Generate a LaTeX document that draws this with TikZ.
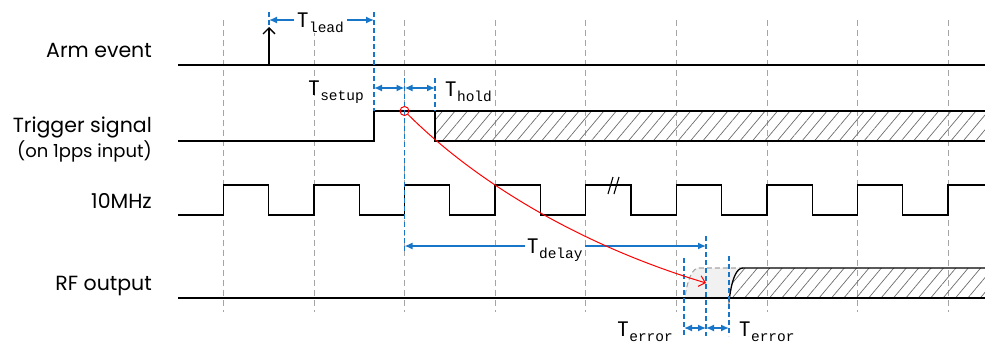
\documentclass[tikz,border=0pt]{standalone}
\usepackage{fontspec}
\setmainfont{Poppins}
\newfontfamily\submono{Liberation Mono}
\usetikzlibrary{arrows.meta,patterns.meta}
\definecolor{dimblue}{RGB}{24,118,200}
\definecolor{gridgray}{RGB}{165,165,165}
\definecolor{ghostfill}{RGB}{241,241,241}
\newcommand{\Tsub}[1]{T\kern0.5pt\raisebox{-4.5pt}{\fontsize{14.5}{15}\submono #1}}
\begin{document}
\begin{tikzpicture}[x=1pt,y=-1pt,
  sig/.style={line width=1.3pt, black},
  gridline/.style={gridgray, line width=0.8pt, dash pattern=on 6pt off 4pt},
  guide/.style={dimblue, line width=1.1pt, dash pattern=on 5pt off 3pt},
  dimarrow/.style={dimblue, line width=1.4pt, {Latex[length=8pt,width=7pt]}-{Latex[length=8pt,width=7pt]}},
  siglabel/.style={anchor=base east, font=\fontsize{20.5}{22}\selectfont, inner sep=0pt},
  dimlabel/.style={font=\fontsize{21}{22}\selectfont, inner sep=0pt},
  hatch/.style={pattern={Lines[angle=50,distance=9.5pt,line width=0.7pt]}, pattern color=gray!85!black},
  redline/.style={red, line width=1pt}]
\useasboundingbox (0,0) rectangle (985,343);
\begin{scope}
\clip (0,0) rectangle (985,343);
% grid
\foreach \k in {0,...,8}
  \draw[gridline] ({223.3+90.6*\k},20) -- ({223.3+90.6*\k},312);

% signal labels
\node[siglabel] (armlbl) at (152,57) {Arm event};
\node[siglabel] (triglbl) at (152,132) {Trigger signal};
\node[siglabel, font=\fontsize{18}{20}\selectfont] (trigsub) at (152,157) {(on 1pps input)};
\node[siglabel] (clklbl) at (152,208) {10MHz};
\node[siglabel] (rflbl) at (152,290) {RF output};

% hatched areas
\fill[hatch] (435,111) rectangle (990,141);
\fill[hatch] (729,298) to[out=-90,in=180] (743,268) -- (990,268) -- (990,298) -- cycle;
% ghost edge
\fill[ghostfill] (684,298) to[out=-90,in=180] (699,268) -- (743,268) to[out=180,in=-90] (729,298) -- cycle;
\draw[gridgray, line width=1.1pt, dash pattern=on 5pt off 3pt] (684,298) to[out=-90,in=180] (699,268) -- (743,268);

% arm event
\coordinate (arm0) at (178,65);
\coordinate (arm1) at (990,65);
\coordinate (armbase) at (269,65);
\coordinate (armtip) at (269,27);
\draw[sig] (arm0) -- (arm1);
\draw[sig, -{Straight Barb[length=6pt,width=12pt]}] (armbase) -- (armtip);

% trigger signal
\draw[sig] (178,141) -- (374,141) -- (374,111) -- (435,111) -- (435,141) -- (990,141);
\draw[sig] (435,111) -- (990,111);

% 10 MHz clock
\draw[sig] (178,215) \foreach \k in {0,...,8} {
  -- ({223.3+90.6*\k},215) -- ({223.3+90.6*\k},185)
  -- ({268.6+90.6*\k},185) -- ({268.6+90.6*\k},215) };
\draw[sig, line width=1.1pt] (608,194) -- (613,177);
\draw[sig, line width=1.1pt] (614,194) -- (619,177);

% RF output
\draw[sig] (178,298) -- (990,298);
\draw[sig] (729,298) to[out=-90,in=180] (743,268) -- (990,268);

% blue guides
\draw[guide] (269,12) -- (269,27);
\draw[guide] (374,12) -- (374,111);
\draw[guide] (404.5,78) -- (404.5,252);
\draw[guide] (435,78) -- (435,111);
\draw[guide] (706,236) -- (706,336);
\draw[guide] (684,258) -- (684,336);
\draw[guide] (729,256) -- (729,336);

% dimension arrows
\coordinate (lA) at (269,20);  \coordinate (lB) at (374,20);
\coordinate (sA) at (374,88);  \coordinate (sB) at (404.5,88); \coordinate (sC) at (435,88);
\coordinate (dA) at (404.5,246); \coordinate (dB) at (706,246);
\coordinate (eA) at (684,328); \coordinate (eB) at (706,328); \coordinate (eC) at (729,328);
\draw[dimarrow] (lA) -- (lB);
\draw[dimarrow] (sA) -- (sB);
\draw[dimarrow] (sB) -- (sC);
\draw[dimarrow] (dA) -- (dB);
\draw[dimarrow] (eA) -- (eB);
\draw[dimarrow] (eB) -- (eC);

\node[dimlabel, anchor=base west, fill=white, inner xsep=3pt, inner ysep=1pt] (tlead) at (294,27.5) {\Tsub{lead}};
\node[dimlabel, anchor=base east] (tsetup) at (364,95.5) {\Tsub{setup}};
\node[dimlabel, anchor=base west] (thold) at (445,96.5) {\Tsub{hold}};
\node[dimlabel, anchor=base west, fill=white, inner xsep=2pt, inner ysep=1pt] (tdelay) at (525,253.5) {\Tsub{delay}};
\node[dimlabel, anchor=base east] (terr1) at (673,336.5) {\Tsub{error}};
\node[dimlabel, anchor=base west] (terr2) at (739,336.5) {\Tsub{error}};

% red causal arrow
\node[draw=red, line width=1pt, circle, minimum size=9pt, inner sep=0pt] (trig) at (404.5,111) {};
\coordinate (rfhit) at (706,283);
\draw[redline, -{Straight Barb[length=6pt,width=11pt]}] (trig.-45) .. controls (480,186) and (586,247) .. (rfhit);
\end{scope}
\end{tikzpicture}
\end{document}
